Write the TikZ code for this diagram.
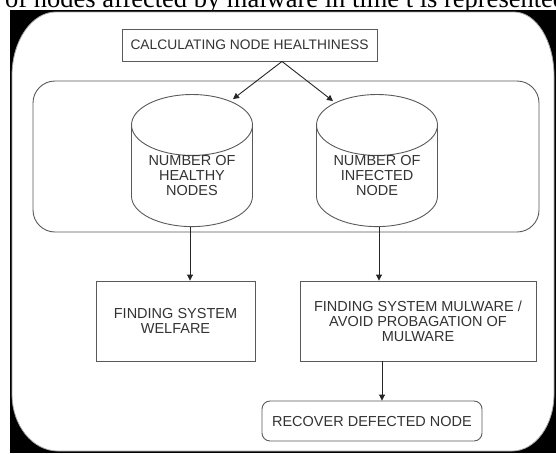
\documentclass[tikz,border=0pt]{standalone}
\usepackage{fontspec}
\setmainfont{Liberation Sans}
\newfontfamily\capfont{Liberation Serif}
\usetikzlibrary{shapes.geometric,arrows.meta}
\definecolor{edge}{HTML}{5A5A5A}
\definecolor{txt}{HTML}{333333}
\begin{document}
\begin{tikzpicture}[x=1pt,y=-1pt,
  lab/.style={text=txt, font=\fontsize{14.5}{15}\selectfont, align=center},
  box/.style={draw=edge, line width=0.9pt, lab, inner sep=0pt},
  db/.style={cylinder, shape border rotate=90, aspect=0.7, draw=edge, line width=0.9pt,
    minimum width=121pt, minimum height=120pt, lab, inner sep=0pt},
  arr/.style={draw=black!85, line width=0.9pt, -{Triangle[length=6pt,width=6pt]}},
]
\useasboundingbox (0,0) rectangle (556,453);
\clip (0,0) rectangle (556,453);
\node[anchor=base west, inner sep=0pt, font=\capfont\fontsize{26.5}{28}\selectfont] (cap) at (5,7)
  {of nodes affected by malware in time t is represented};
\fill[black] (10,10) rectangle (556,453);
\filldraw[fill=white, draw=gray!70, line width=0.8pt]
  (56,12) -- (514,12) arc[start angle=90, end angle=0, x radius=40pt, y radius=64pt]
  -- (554,394) arc[start angle=0, end angle=-90, x radius=42pt, y radius=57pt]
  -- (58,451) arc[start angle=270, end angle=180, x radius=46pt, y radius=57pt]
  -- (12,76) arc[start angle=180, end angle=90, x radius=44pt, y radius=64pt] -- cycle;

\node[draw=edge, line width=0.9pt, rounded corners=22pt, minimum width=506pt, minimum height=151pt] (grp) at (286,156.5) {};
\node[box, minimum width=255pt, minimum height=32pt, font=\fontsize{13.8}{15}\selectfont] (calc) at (249.5,45) {CALCULATING NODE HEALTHINESS};
\node[db] (cylL) at (192,176) {NUMBER OF\\HEALTHY\\NODES};
\node[db] (cylR) at (377,176) {NUMBER OF\\INFECTED\\NODE};
\node[box, minimum width=159pt, minimum height=80pt] (boxL) at (175.5,321) {FINDING SYSTEM\\WELFARE};
\node[box, minimum width=236pt, minimum height=80pt] (boxR) at (418,321) {FINDING SYSTEM MULWARE /\\AVOID PROBAGATION OF\\MULWARE};
\node[box, rounded corners=8pt, minimum width=220pt, minimum height=40pt] (rec) at (372,421) {RECOVER DEFECTED NODE};

\draw[arr] ([xshift=32.5pt]calc.south) -- ([xshift=41pt,yshift=-5pt]cylL.north);
\draw[arr] ([xshift=32.5pt]calc.south) -- ([xshift=-44pt,yshift=-7pt]cylR.north);
\draw[arr] ([xshift=-2pt]cylL.south) -- ([xshift=-2pt]cylL.south |- boxL.north);
\draw[arr] ([xshift=2pt]cylR.south) -- ([xshift=2pt]cylR.south |- boxR.north);
\draw[arr] ([xshift=5pt]cylR.south |- boxR.south) -- ([xshift=5pt]cylR.south |- rec.north);
\end{tikzpicture}
\end{document}
